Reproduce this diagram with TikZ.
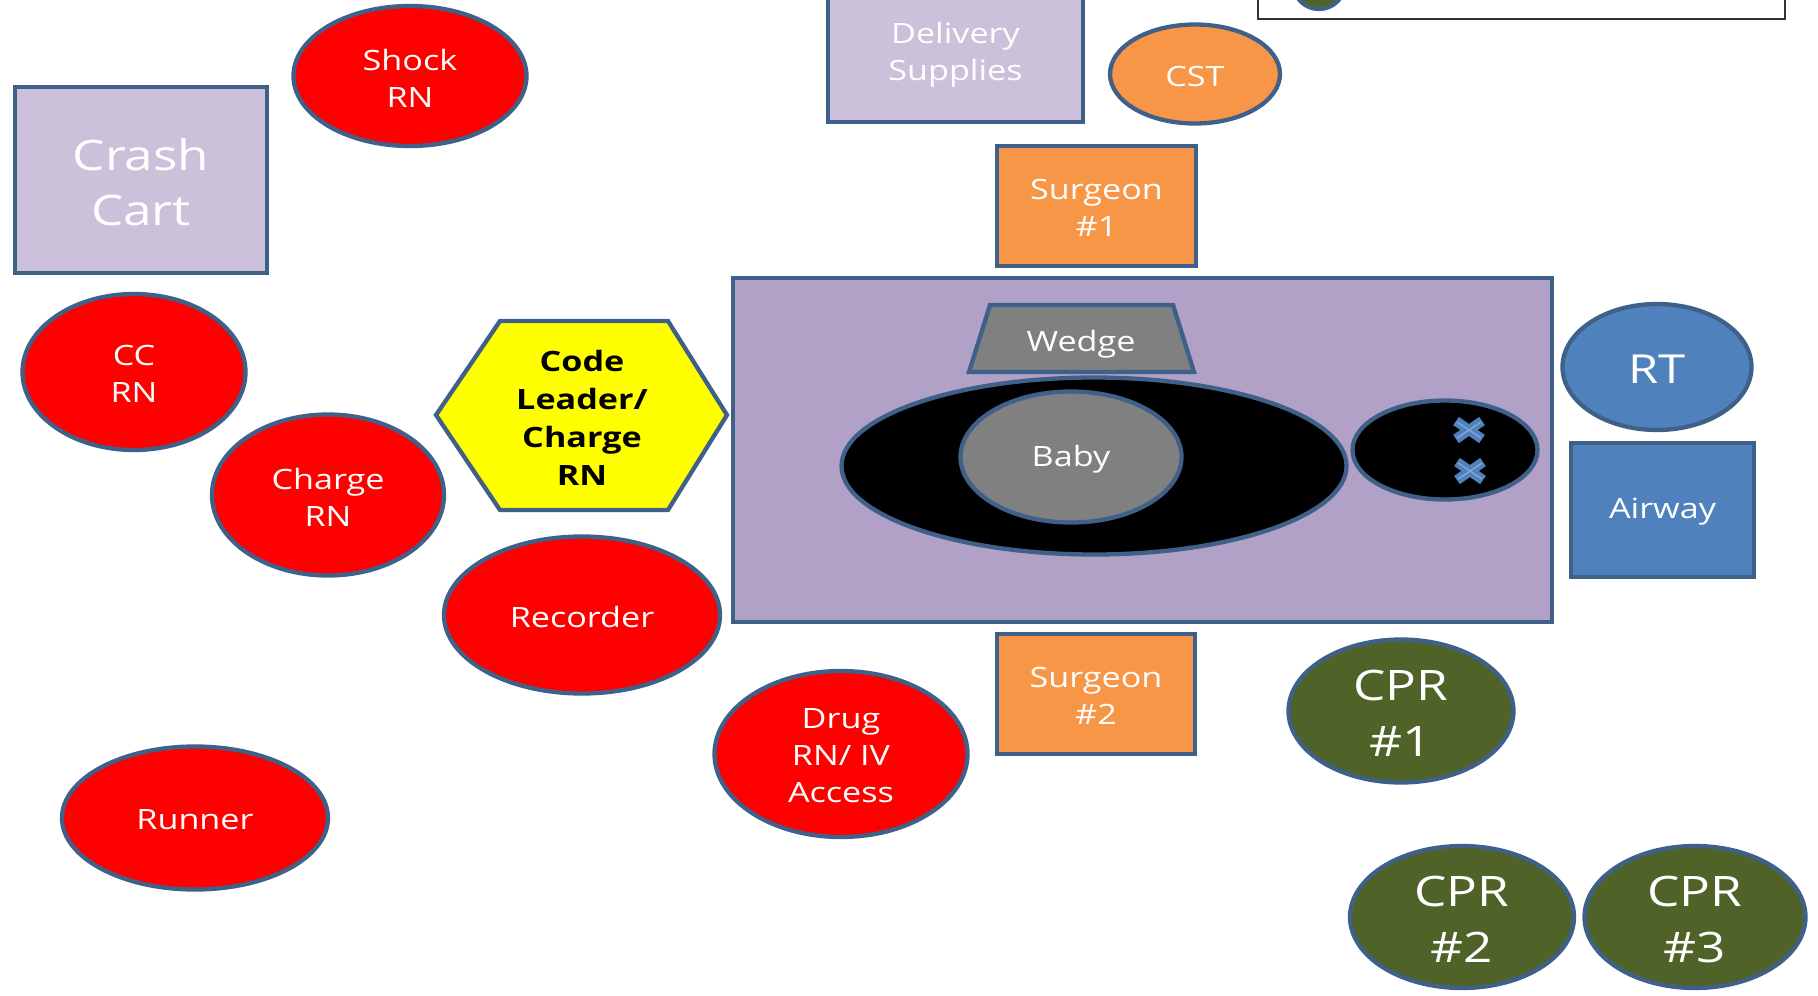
\documentclass[tikz,border=0pt]{standalone}
\usepackage{fontspec}
\setmainfont{Open Sans}[FakeStretch=1.22]
\usetikzlibrary{shapes.geometric}
\definecolor{bord}{HTML}{3E6089}
\definecolor{redf}{HTML}{FF0000}
\definecolor{orangef}{HTML}{F79646}
\definecolor{lavf}{HTML}{CCC1DA}
\definecolor{tablef}{HTML}{B2A1C7}
\definecolor{bluef}{HTML}{4F81BD}
\definecolor{bluel}{HTML}{7FA6D6}
\definecolor{greenf}{HTML}{4F6228}
\definecolor{grayf}{HTML}{808080}
\definecolor{hexf}{HTML}{FFFF00}
\begin{document}
\begin{tikzpicture}[x=1pt,y=-1pt,
  base/.style={draw=bord, line width=4.3pt, inner sep=0pt},
  oval/.style={base, ellipse},
  box/.style={base, rectangle},
  lt/.style={text=white, align=center, inner sep=0pt, yshift=-2pt},
  ftext/.style={font=\fontsize{28}{37}\selectfont},
  fbig/.style={font=\fontsize{42}{56}\selectfont},
  xmark/.style={line width=10pt, draw=bluef},
  xline/.style={line width=1.5pt, draw=bluel}]
\useasboundingbox (0,0) rectangle (1818,996);

% legend box (cut off at top)
\draw[draw=black!80, line width=2.5pt] (1258,-40) rectangle (1785,19);
\node[oval, fill=greenf, minimum width=52pt, minimum height=52pt] (legdot) at (1319,-17) {};

% top equipment
\node[box, fill=lavf, minimum width=255pt, minimum height=138pt,
  label={[lt,ftext]center:{Delivery\\Supplies}}] (deliv) at (955.5,53) {};
\node[oval, fill=orangef, minimum width=170pt, minimum height=99pt,
  label={[lt,ftext]center:CST}] (cst) at (1195,74) {};
\node[box, fill=orangef, minimum width=199pt, minimum height=120pt,
  label={[lt,ftext]center:{Surgeon\\\#1}}] (surg1) at (1096.5,206) {};

% left side
\node[box, fill=lavf, minimum width=252pt, minimum height=186pt,
  label={[lt,font=\fontsize{42}{55}\selectfont]center:{Crash\\Cart}}] (crash) at (141,180) {};
\node[oval, fill=redf, minimum width=233pt, minimum height=140pt,
  label={[lt,ftext]center:{Shock\\RN}}] (shock) at (410,76) {};
\node[oval, fill=redf, minimum width=223pt, minimum height=156pt,
  label={[lt,ftext]center:{CC\\RN}}] (ccrn) at (134,372) {};
\node[oval, fill=redf, minimum width=232pt, minimum height=161pt,
  label={[lt,ftext]center:{Charge\\RN}}] (charge) at (328,495) {};

% code leader hexagon
\draw[draw=bord, line width=4.3pt, fill=hexf]
  (436,415) -- (500,321) -- (668,321) -- (727,415) -- (668,510) -- (500,510) -- cycle;
\node[align=center, text=black, inner sep=0pt, font=\bfseries\fontsize{28}{38}\selectfont] (leader) at (582,418) {Code\\Leader/\\Charge\\RN};

% table
\node[base, rectangle, fill=tablef, minimum width=819pt, minimum height=344pt] (table) at (1142.5,450) {};
\draw[draw=bord, line width=4.3pt, fill=grayf]
  (990,305) -- (1173,305) -- (1194,372) -- (969,372) -- cycle;
\node[text=white, ftext, inner sep=0pt] (wedge) at (1081,344) {Wedge};
\node[oval, fill=black, minimum width=505pt, minimum height=177pt] (bed) at (1094,466) {};
\node[oval, fill=black, minimum width=185pt, minimum height=99pt] (head) at (1445,450) {};
\node[oval, fill=grayf, minimum width=221pt, minimum height=131pt,
  label={[lt,ftext]center:Baby}] (baby) at (1071,457) {};

% x marks
\coordinate (xa) at (1469,430);
\coordinate (xb) at (1470,471);
\foreach \c in {xa,xb}{
  \draw[xmark] ([shift={(-13,-9)}]\c) -- ([shift={(13,9)}]\c);
  \draw[xmark] ([shift={(-13,9)}]\c) -- ([shift={(13,-9)}]\c);
  \draw[xline] ([shift={(-12,-8)}]\c) -- ([shift={(12,8)}]\c);
  \draw[xline] ([shift={(-12,8)}]\c) -- ([shift={(12,-8)}]\c);
}

% right side
\node[oval, fill=bluef, minimum width=189pt, minimum height=126pt,
  label={[lt,font=\fontsize{40}{50}\selectfont]center:RT}] (rt) at (1657,367) {};
\node[box, fill=bluef, minimum width=183pt, minimum height=134pt,
  label={[lt,ftext]center:Airway}] (airway) at (1662.5,510) {};

% bottom
\node[oval, fill=redf, minimum width=276pt, minimum height=157pt,
  label={[lt,ftext]center:Recorder}] (recorder) at (582,615) {};
\node[oval, fill=redf, minimum width=253pt, minimum height=166pt,
  label={[lt,ftext]center:{Drug\\RN/ IV\\Access}}] (drug) at (841,754) {};
\node[oval, fill=redf, minimum width=266pt, minimum height=143pt,
  label={[lt,ftext]center:Runner}] (runner) at (195,818) {};
\node[box, fill=orangef, minimum width=198pt, minimum height=120pt,
  label={[lt,ftext]center:{Surgeon\\\#2}}] (surg2) at (1096,694) {};
\node[oval, fill=greenf, minimum width=225pt, minimum height=143pt,
  label={[lt,fbig]center:{CPR\\\#1}}] (cpr1) at (1401,711) {};
\node[oval, fill=greenf, minimum width=224pt, minimum height=142pt,
  label={[lt,fbig]center:{CPR\\\#2}}] (cpr2) at (1462,917) {};
\node[oval, fill=greenf, minimum width=221pt, minimum height=142pt,
  label={[lt,fbig]center:{CPR\\\#3}}] (cpr3) at (1695,917) {};
\end{tikzpicture}
\end{document}
